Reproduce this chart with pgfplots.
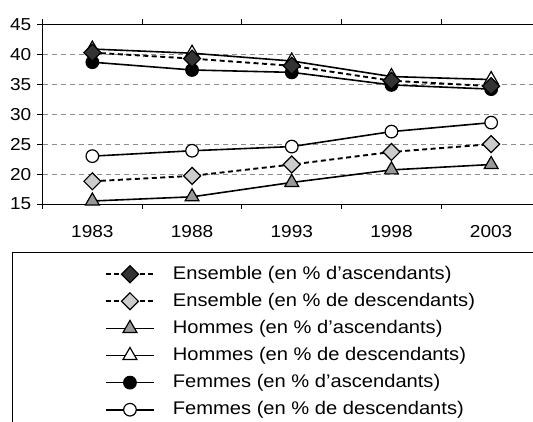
\documentclass[border=0pt]{standalone}
\usepackage{pgfplots}
\pgfplotsset{compat=1.18}
\usepackage{fontspec}
\setmainfont{Liberation Sans}[FakeStretch=1.1]
\definecolor{darkd}{gray}{0.2}
\definecolor{lightd}{gray}{0.8}
\definecolor{midt}{gray}{0.6}
\definecolor{gridc}{gray}{0.55}
\begin{document}
\begin{tikzpicture}[x=1bp,y=1bp]
\path[use as bounding box] (0,0) rectangle (533,421);
\begin{axis}[
  at={(42.5bp,217bp)}, anchor=south west,
  scale only axis, width=498.5bp, height=179.5bp,
  xmin=-0.5, xmax=4.5, ymin=15, ymax=45,
  xtick={0,1,2,3,4}, xticklabels={1983,1988,1993,1998,2003},
  minor xtick={-0.5,0.5,1.5,2.5,3.5,4.5},
  ytick={15,20,25,30,35,40,45},
  tick align=outside,
  x tick style={draw=none},
  minor x tick style={draw=black, line width=0.9bp},
  minor tick length=5bp,
  y tick style={line width=0.9bp, black},
  major tick length=5bp,
  axis line style={line width=1bp},
  ymajorgrids, grid style={gridc, dashed, dash pattern=on 5bp off 4bp, line width=0.7bp},
  tick label style={font=\fontsize{17.3bp}{19bp}\selectfont},
  /pgf/number format/assume math mode=true,
  yticklabel style={inner sep=0pt, xshift=-6bp},
  xticklabel style={inner sep=0pt, yshift=-16bp, anchor=north},
  reverse legend,
  legend cell align=left,
  legend image code/.code={\draw[mark repeat=2,mark phase=2,#1] plot coordinates {(0bp,0bp) (24bp,0bp) (48bp,0bp)};},
  legend style={at={(axis description cs:0.1254,-0.341)}, anchor=north west,
    draw=none, fill=none, inner sep=0pt, outer sep=0pt,
    font=\fontsize{18.3bp}{20bp}\selectfont,
    nodes={inner sep=0pt, text height=14bp, text depth=4bp},
    row sep=9.1bp,
    /tikz/every odd column/.append style={column sep=18bp}},
]
\addplot[black, line width=1.6bp, mark=*, mark size=6.3bp, mark options={fill=white, line width=1.2bp, solid}]
  coordinates {(0,23.0) (1,23.9) (2,24.6) (3,27.1) (4,28.6)};
\addlegendentry{Femmes (en \% de descendants)}
\addplot[black, line width=1.6bp, mark=*, mark size=6.3bp, mark options={fill=black, line width=1.2bp, solid}]
  coordinates {(0,38.7) (1,37.4) (2,37.0) (3,34.9) (4,34.2)};
\addlegendentry{Femmes (en \% d’ascendants)}
\addplot[black, line width=1.6bp, mark=triangle*, mark size=8bp, mark options={fill=white, line width=1.2bp, solid}]
  coordinates {(0,40.9) (1,40.2) (2,38.9) (3,36.3) (4,35.8)};
\addlegendentry{Hommes (en \% de descendants)}
\addplot[black, line width=1.6bp, mark=triangle*, mark size=8bp, mark options={fill=midt, line width=1.2bp, solid}]
  coordinates {(0,15.5) (1,16.2) (2,18.6) (3,20.7) (4,21.6)};
\addlegendentry{Hommes (en \% d’ascendants)}
\addplot[black, line width=1.9bp, dash pattern=on 5bp off 3.5bp, mark=square*, mark size=6bp, mark options={fill=lightd, line width=1.2bp, solid, rotate=45}]
  coordinates {(0,18.8) (1,19.7) (2,21.6) (3,23.7) (4,25.0)};
\addlegendentry{Ensemble (en \% de descendants)}
\addplot[black, line width=1.9bp, dash pattern=on 5bp off 3.5bp, mark=square*, mark size=6bp, mark options={fill=darkd, line width=1.2bp, solid, rotate=45}]
  coordinates {(0,40.3) (1,39.3) (2,38.1) (3,35.6) (4,34.7)};
\addlegendentry{Ensemble (en \% d’ascendants)}
\end{axis}
\draw[line width=1bp] (12,-5) -- (12,168.5) -- (560,168.5);
\end{tikzpicture}
\end{document}
